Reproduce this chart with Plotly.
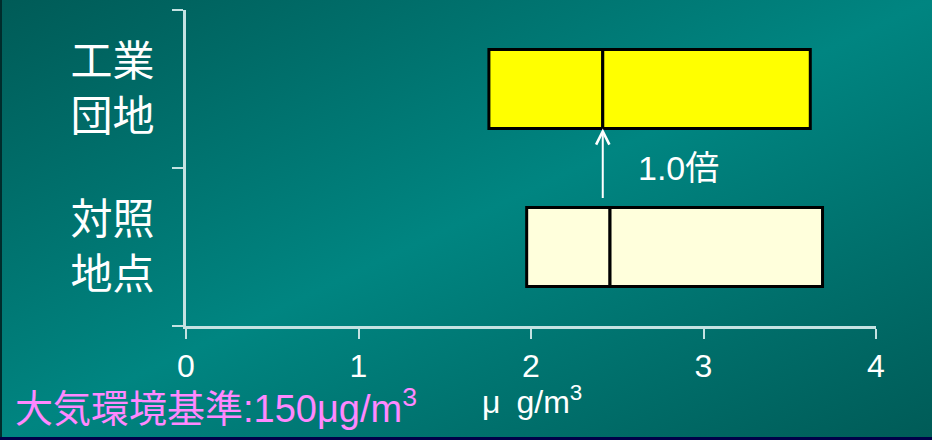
import base64
import plotly.graph_objects as go

# ---- data ----
sites = ["対照地点", "工業団地"]
site_labels = ["対照<br>地点", "工業<br>団地"]
mins = [1.975, 1.756]
medians = [2.458, 2.416]
maxs = [3.690, 3.619]
fills = ["#FFFFDC", "#FFFF00"]
x_ticks = [0, 1, 2, 3, 4]
x_tick_text = ["0", "1", "2", "3", "4"]
unit_label = "μ\u2002g/m<sup>3</sup>"
standard_label = "大気環境基準:150μg/m<sup>3</sup>"

BOX_W = 0.5

fig = go.Figure()
for i, s in enumerate(sites):
    fig.add_trace(go.Bar(
        y=[s], x=[medians[i] - mins[i]], base=[mins[i]], orientation="h",
        width=BOX_W, marker=dict(color=fills[i], line=dict(color="#000000", width=3)),
        hoverinfo="skip", showlegend=False))
    fig.add_trace(go.Bar(
        y=[s], x=[maxs[i] - medians[i]], base=[medians[i]], orientation="h",
        width=BOX_W, marker=dict(color=fills[i], line=dict(color="#000000", width=3)),
        hoverinfo="skip", showlegend=False))

# arrow from control box up to industrial median
ind = sites.index("工業団地")
ctl = sites.index("対照地点")
ratio = medians[ind] / medians[ctl]
fig.add_annotation(x=medians[ind], y=ind - BOX_W / 2, xref="x", yref="y",
                   ax=medians[ind], ay=ctl + 0.30, axref="x", ayref="y",
                   showarrow=True, arrowhead=5, arrowsize=1.3, arrowwidth=2,
                   arrowcolor="#FFFFFF", standoff=0, startstandoff=0, text="")
fig.add_annotation(x=medians[ind] + 0.44, y=(ind + ctl) / 2, xref="x", yref="y",
                   text=f"{ratio:.1f}倍", showarrow=False, xanchor="center", yanchor="middle",
                   font=dict(family="Liberation Sans, Noto Sans CJK JP", size=34, color="#FFFFFF"))

# bottom texts
fig.add_annotation(x=-0.2505, y=-0.252, xref="paper", yref="paper", text=standard_label,
                   showarrow=False, xanchor="left", yanchor="middle",
                   font=dict(family="Liberation Sans, Noto Sans CJK JP", size=38, color="#FF88FF"))
fig.add_annotation(x=0.4255, y=-0.235, xref="paper", yref="paper", text=unit_label,
                   showarrow=False, xanchor="left", yanchor="middle",
                   font=dict(family="Liberation Sans, Noto Sans CJK JP", size=32, color="#FFFFFF"))

svg = '''<svg xmlns="http://www.w3.org/2000/svg" width="932" height="440" viewBox="0 0 932 440" preserveAspectRatio="none">
<defs><linearGradient id="g" x1="0" y1="0" x2="1" y2="1">
<stop offset="0" stop-color="#005b57"/><stop offset="0.5" stop-color="#008581"/><stop offset="1" stop-color="#005b57"/></linearGradient></defs>
<rect width="932" height="440" fill="url(#g)"/>
<rect x="0" y="0" width="2" height="440" fill="#002c2c"/>
<rect x="0" y="437" width="932" height="3" fill="#000048"/>
</svg>'''
src = "data:image/svg+xml;base64," + base64.b64encode(svg.encode()).decode()

L, R, T, B = 186, 56, 10, 114
W, H = 932, 440
pw, ph = W - L - R, H - T - B
fig.add_layout_image(source=src, xref="paper", yref="paper",
                     x=-L / pw, y=1 + T / ph, sizex=W / pw, sizey=H / ph,
                     xanchor="left", yanchor="top", sizing="stretch", layer="below")

axis_col = "#C4E2E2"
fig.update_layout(
    width=W, height=H, margin=dict(l=L, r=R, t=T, b=B),
    paper_bgcolor="#007070", plot_bgcolor="rgba(0,0,0,0)",
    barmode="overlay",
    xaxis=dict(range=[0, 4], tickvals=x_ticks, ticktext=x_tick_text, showgrid=False, zeroline=False,
               showline=True, linecolor=axis_col, linewidth=3, ticks="outside", ticklen=10,
               tickwidth=2, tickcolor=axis_col, ticklabelstandoff=0,
               tickfont=dict(family="Liberation Sans, Arial", size=32, color="#FFFFFF")),
    yaxis=dict(type="category", categoryarray=sites, tickvals=sites, ticktext=site_labels,
               range=[-0.5, 1.5], showgrid=False, zeroline=False,
               showline=True, linecolor=axis_col, linewidth=3, ticks="outside", ticklen=11,
               tickwidth=2, tickcolor=axis_col, tickson="boundaries", ticklabelstandoff=20,
               tickfont=dict(family="Noto Sans CJK JP", size=42, color="#FFFFFF")),
)

fig.write_html("out.html", config={"displayModeBar": False},
               post_script="document.body.style.margin='0';document.body.style.background='#000';")
